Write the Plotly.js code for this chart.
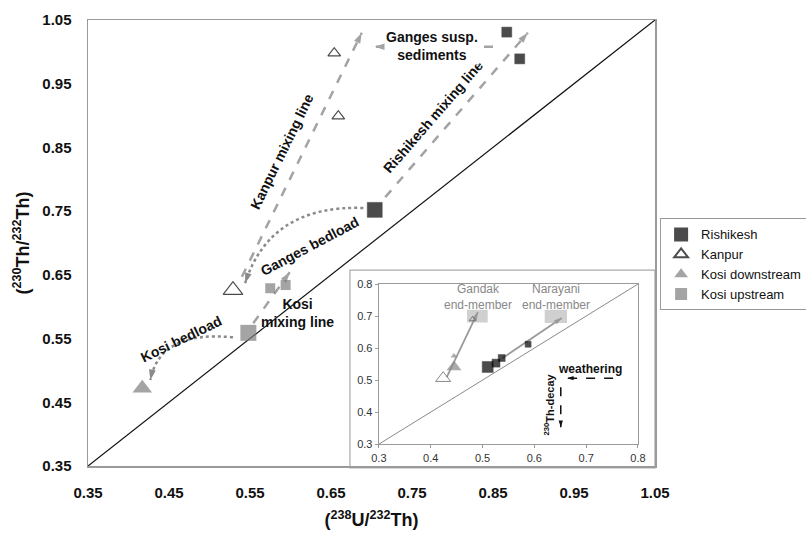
<!DOCTYPE html>
<html><head><meta charset="utf-8">
<script src="https://cdn.plot.ly/plotly-3.0.1.min.js"></script>
<style>html,body{margin:0;padding:0;background:#fff}#chart{width:806px;height:534px}</style>
</head><body><div id="chart"></div>
<script>
// ---------- main panel data ----------
const mainTicks = [0.35, 0.45, 0.55, 0.65, 0.75, 0.85, 0.95, 1.05];
const mainTickText = ['0.35', '0.45', '0.55', '0.65', '0.75', '0.85', '0.95', '1.05'];
const equiline = [0.35, 1.05];

const rishikeshX = [0.704, 0.867, 0.883];
const rishikeshY = [0.752, 1.031, 0.989];
const kanpurX = [0.529, 0.654, 0.659];
const kanpurY = [0.626, 0.998, 0.899];
const kosiDownX = [0.417];
const kosiDownY = [0.472];
const kosiUpX = [0.548, 0.575, 0.594];
const kosiUpY = [0.559, 0.629, 0.634];

// mixing lines: [start, end]
const kanpurLineX = [0.540, 0.688], kanpurLineY = [0.647, 1.030];
const rishikeshLineX = [0.717, 0.893], rishikeshLineY = [0.772, 1.030];
const kosiLineX = [0.554, 0.599], kosiLineY = [0.574, 0.654];
const gangesSuspX = [0.850, 0.704], gangesSuspY = [1.008, 1.008];
// bedload curves: [start, control, end]
const gangesBedX = [0.690, 0.575, 0.544], gangesBedY = [0.755, 0.760, 0.637];
const kosiBedX = [0.529, 0.439, 0.427], kosiBedY = [0.552, 0.563, 0.485];

// ---------- inset data ----------
const insetTicks = [0.3, 0.4, 0.5, 0.6, 0.7, 0.8];
const insetTickText = ['0.3', '0.4', '0.5', '0.6', '0.7', '0.8'];
const insetEquiline = [0.3, 0.8];
const insetRishikeshX = [0.510, 0.526, 0.537, 0.588];
const insetRishikeshY = [0.541, 0.553, 0.569, 0.612];
const insetKanpurX = [0.424, 0.481];
const insetKanpurY = [0.506, 0.690];
const insetKosiDownX = [0.445, 0.445];
const insetKosiDownY = [0.541, 0.575];
const gandakArrowX = [0.431, 0.491], gandakArrowY = [0.509, 0.712];
const narayaniArrowX = [0.539, 0.653], narayaniArrowY = [0.569, 0.694];
const gandakBoxX = [0.47, 0.51], gandakBoxY = [0.68, 0.72];
const narayaniBoxX = [0.62, 0.663], narayaniBoxY = [0.678, 0.72];
const weatheringX = [0.752, 0.663], weatheringY = [0.506, 0.506];
const decayX = [0.651, 0.651], decayY = [0.478, 0.353];

const FONT = 'Liberation Sans, Arial, sans-serif';
const DASHGRAY = '#a3a3a3';
const DOTGRAY = '#8a8a8a';
const KOSI = '#7d7d7d';

const W = 806, H = 534, M = {l: 88, r: 151, t: 20, b: 68};
const plotW = W - M.l - M.r, plotH = H - M.t - M.b;
const mainRange = [0.35, 1.05], insetRange = [0.3, 0.8];
const insetDomX = [0.513, 0.970], insetDomY = [0.049, 0.408];
// pixel aspect of each panel, used only to orient the arrowhead symbols
const aspect = {
  x: (plotW / (mainRange[1] - mainRange[0])) / (plotH / (mainRange[1] - mainRange[0])),
  x2: (plotW * (insetDomX[1] - insetDomX[0])) / (plotH * (insetDomY[1] - insetDomY[0]))
};

function headAngle(xs, ys, a) {
  const n = xs.length - 1;
  const dx = (xs[n] - xs[n - 1]) * a, dy = ys[n] - ys[n - 1];
  return Math.atan2(dx, dy) * 180 / Math.PI;
}
function lineTrace(xs, ys, color, width, dash, xa, ya) {
  return {x: xs, y: ys, mode: 'lines', line: {color: color, width: width, dash: dash || 'solid'},
    xaxis: xa || 'x', yaxis: ya || 'y', showlegend: false, hoverinfo: 'skip'};
}
// arrowhead marker at the last point, oriented along the last segment
function headTrace(xs, ys, color, size, xa, ya) {
  const n = xs.length - 1;
  return {x: [xs[n]], y: [ys[n]], mode: 'markers', xaxis: xa || 'x', yaxis: ya || 'y',
    marker: {symbol: 'arrow', angle: headAngle(xs, ys, aspect[xa || 'x']), size: size, color: color, line: {width: 0}},
    showlegend: false, hoverinfo: 'skip', cliponaxis: false};
}

const traces = [
  lineTrace(equiline, equiline, '#111', 1.2),
  lineTrace(kanpurLineX, kanpurLineY, DASHGRAY, 2.5, 'dash'),
  lineTrace(rishikeshLineX, rishikeshLineY, DASHGRAY, 2.5, 'dash'),
  lineTrace(kosiLineX, kosiLineY, DASHGRAY, 2.5, 'dash'),
  lineTrace(gangesSuspX, gangesSuspY, DASHGRAY, 2.5, 'dash'),
  headTrace(kanpurLineX, kanpurLineY, DASHGRAY, 11),
  headTrace(rishikeshLineX, rishikeshLineY, DASHGRAY, 11),
  headTrace(kosiLineX, kosiLineY, DASHGRAY, 11),
  headTrace(gangesSuspX, gangesSuspY, DASHGRAY, 11),
  headTrace(gangesBedX, gangesBedY, DOTGRAY, 11),
  headTrace(kosiBedX, kosiBedY, DOTGRAY, 11),
  {x: rishikeshX, y: rishikeshY, name: 'Rishikesh', mode: 'markers',
    marker: {symbol: 'square', color: '#000', size: [15, 10, 10], line: {color: '#000', width: 0.5}}},
  {x: kanpurX, y: kanpurY, name: 'Kanpur', mode: 'markers',
    marker: {symbol: 'triangle-up-open', color: '#000', size: [17, 11, 11], line: {width: 1.2}}},
  {x: kosiDownX, y: kosiDownY, name: 'Kosi downstream', mode: 'markers',
    marker: {symbol: 'triangle-up', color: KOSI, size: [17], line: {width: 0}}},
  {x: kosiUpX, y: kosiUpY, name: 'Kosi upstream', mode: 'markers',
    marker: {symbol: 'square', color: KOSI, size: [16, 10, 10], line: {width: 0}}},
  // inset
  lineTrace(insetEquiline, insetEquiline, '#8a8a8a', 1, 'solid', 'x2', 'y2'),
  lineTrace(weatheringX, weatheringY, '#111', 1.5, 'dash', 'x2', 'y2'),
  lineTrace(decayX, decayY, '#111', 1.5, 'dash', 'x2', 'y2'),
  lineTrace(gandakArrowX, gandakArrowY, '#9a9a9a', 1.8, 'solid', 'x2', 'y2'),
  lineTrace(narayaniArrowX, narayaniArrowY, '#9a9a9a', 1.8, 'solid', 'x2', 'y2'),
  headTrace(weatheringX, weatheringY, '#111', 7, 'x2', 'y2'),
  headTrace(decayX, decayY, '#111', 7, 'x2', 'y2'),
  headTrace(gandakArrowX, gandakArrowY, '#9a9a9a', 8, 'x2', 'y2'),
  headTrace(narayaniArrowX, narayaniArrowY, '#9a9a9a', 8, 'x2', 'y2'),
  {x: insetRishikeshX, y: insetRishikeshY, mode: 'markers', xaxis: 'x2', yaxis: 'y2', showlegend: false,
    marker: {symbol: 'square', color: '#000', size: [11, 8, 7, 6], line: {color: '#000', width: 0.5}}},
  {x: insetKanpurX, y: insetKanpurY, mode: 'markers', xaxis: 'x2', yaxis: 'y2', showlegend: false,
    marker: {symbol: 'triangle-up-open', color: '#555', size: [13, 6], line: {width: 1}}},
  {x: insetKosiDownX, y: insetKosiDownY, mode: 'markers', xaxis: 'x2', yaxis: 'y2', showlegend: false,
    marker: {symbol: 'triangle-up', color: '#888', size: [13, 6], line: {width: 0}}}
];

function note(x, y, text, opts) {
  const o = opts || {};
  return {x: x, y: y, xref: o.xref || 'x', yref: o.yref || 'y', text: o.bold === false ? text : '<b>' + text + '</b>',
    showarrow: false, textangle: o.angle || 0, bgcolor: o.bg || 'rgba(0,0,0,0)',
    font: {family: FONT, size: o.size || 14, color: o.color || '#111'}};
}

const annotations = [
  note(0.589, 0.843, 'Kanpur mixing line', {angle: -64}),
  note(0.776, 0.897, 'Rishikesh mixing line', {angle: -49}),
  note(0.624, 0.696, 'Ganges bedload', {angle: -28}),
  note(0.465, 0.550, 'Kosi bedload', {angle: -26}),
  note(0.609, 0.590, 'Kosi<br>mixing line'),
  note(0.775, 1.009, 'Ganges susp.<br>sediments', {bg: '#fff'}),
  // inset
  note(0.491, 0.759, 'Gandak<br>end-member', {xref: 'x2', yref: 'y2', size: 12, color: '#888', bold: false}),
  note(0.642, 0.759, 'Narayani<br>end-member', {xref: 'x2', yref: 'y2', size: 12, color: '#888', bold: false}),
  note(0.707, 0.536, 'weathering', {xref: 'x2', yref: 'y2', size: 12}),
  note(0.629, 0.425, '<sup>230</sup>Th-decay', {xref: 'x2', yref: 'y2', size: 11, angle: -90})
];

const shapes = [
  // inset frame
  {type: 'rect', xref: 'paper', yref: 'paper', x0: 0.462, x1: 1.0, y0: -0.004, y1: 0.439,
    fillcolor: '#fff', line: {color: '#aaa', width: 1.2}, layer: 'below'},
  {type: 'rect', xref: 'x2', yref: 'y2', x0: gandakBoxX[0], x1: gandakBoxX[1], y0: gandakBoxY[0], y1: gandakBoxY[1],
    fillcolor: '#d0d0d0', line: {width: 0}, layer: 'below'},
  {type: 'rect', xref: 'x2', yref: 'y2', x0: narayaniBoxX[0], x1: narayaniBoxX[1], y0: narayaniBoxY[0], y1: narayaniBoxY[1],
    fillcolor: '#d0d0d0', line: {width: 0}, layer: 'below'},
  {type: 'path', xref: 'x', yref: 'y',
    path: 'M ' + gangesBedX[0] + ',' + gangesBedY[0] + ' Q ' + gangesBedX[1] + ',' + gangesBedY[1] + ' ' + gangesBedX[2] + ',' + gangesBedY[2],
    line: {color: DOTGRAY, width: 2.5, dash: 'dot'}},
  {type: 'path', xref: 'x', yref: 'y',
    path: 'M ' + kosiBedX[0] + ',' + kosiBedY[0] + ' Q ' + kosiBedX[1] + ',' + kosiBedY[1] + ' ' + kosiBedX[2] + ',' + kosiBedY[2],
    line: {color: DOTGRAY, width: 2.5, dash: 'dot'}}
];

const mainAxis = {
  range: mainRange, tickmode: 'array', tickvals: mainTicks, ticktext: mainTickText,
  showgrid: false, zeroline: false, showline: true, mirror: true, linecolor: '#9a9a9a', linewidth: 1.5,
  ticks: '', tickfont: {family: FONT, size: 15, color: '#111', weight: 'bold'}, fixedrange: true
};
const insetAxis = {
  range: insetRange, tickmode: 'array', tickvals: insetTicks, ticktext: insetTickText,
  showgrid: false, zeroline: false, showline: true, mirror: true, linecolor: '#9a9a9a', linewidth: 1.2,
  ticks: 'outside', ticklen: 3, tickcolor: '#9a9a9a', tickfont: {family: FONT, size: 11, color: '#333'}, fixedrange: true
};

const layout = {
  width: W, height: H,
  margin: {l: M.l, r: M.r, t: M.t, b: M.b, autoexpand: false},
  paper_bgcolor: '#fff', plot_bgcolor: 'rgba(0,0,0,0)',
  font: {family: FONT},
  showlegend: true,
  legend: {x: 1.009, y: 0.555, xanchor: 'left', yanchor: 'top', bordercolor: '#999', borderwidth: 1,
    bgcolor: '#fff', font: {family: FONT, size: 13, color: '#111'}, itemsizing: 'constant', tracegroupgap: 0},
  xaxis: Object.assign({}, mainAxis, {domain: [0, 1], anchor: 'y', ticklabelstandoff: 12,
    title: {text: '(<sup>238</sup>U/<sup>232</sup>Th)', font: {family: FONT, size: 18, color: '#111', weight: 'bold'}, standoff: 14}}),
  yaxis: Object.assign({}, mainAxis, {domain: [0, 1], anchor: 'x', ticklabelstandoff: 12,
    title: {text: '(<sup>230</sup>Th/<sup>232</sup>Th)', font: {family: FONT, size: 18, color: '#111', weight: 'bold'}, standoff: 8}}),
  xaxis2: Object.assign({}, insetAxis, {domain: insetDomX, anchor: 'y2'}),
  yaxis2: Object.assign({}, insetAxis, {domain: insetDomY, anchor: 'x2'}),
  shapes: shapes,
  annotations: annotations
};

Plotly.newPlot('chart', traces, layout, {displayModeBar: false, staticPlot: true});
</script></body></html>
